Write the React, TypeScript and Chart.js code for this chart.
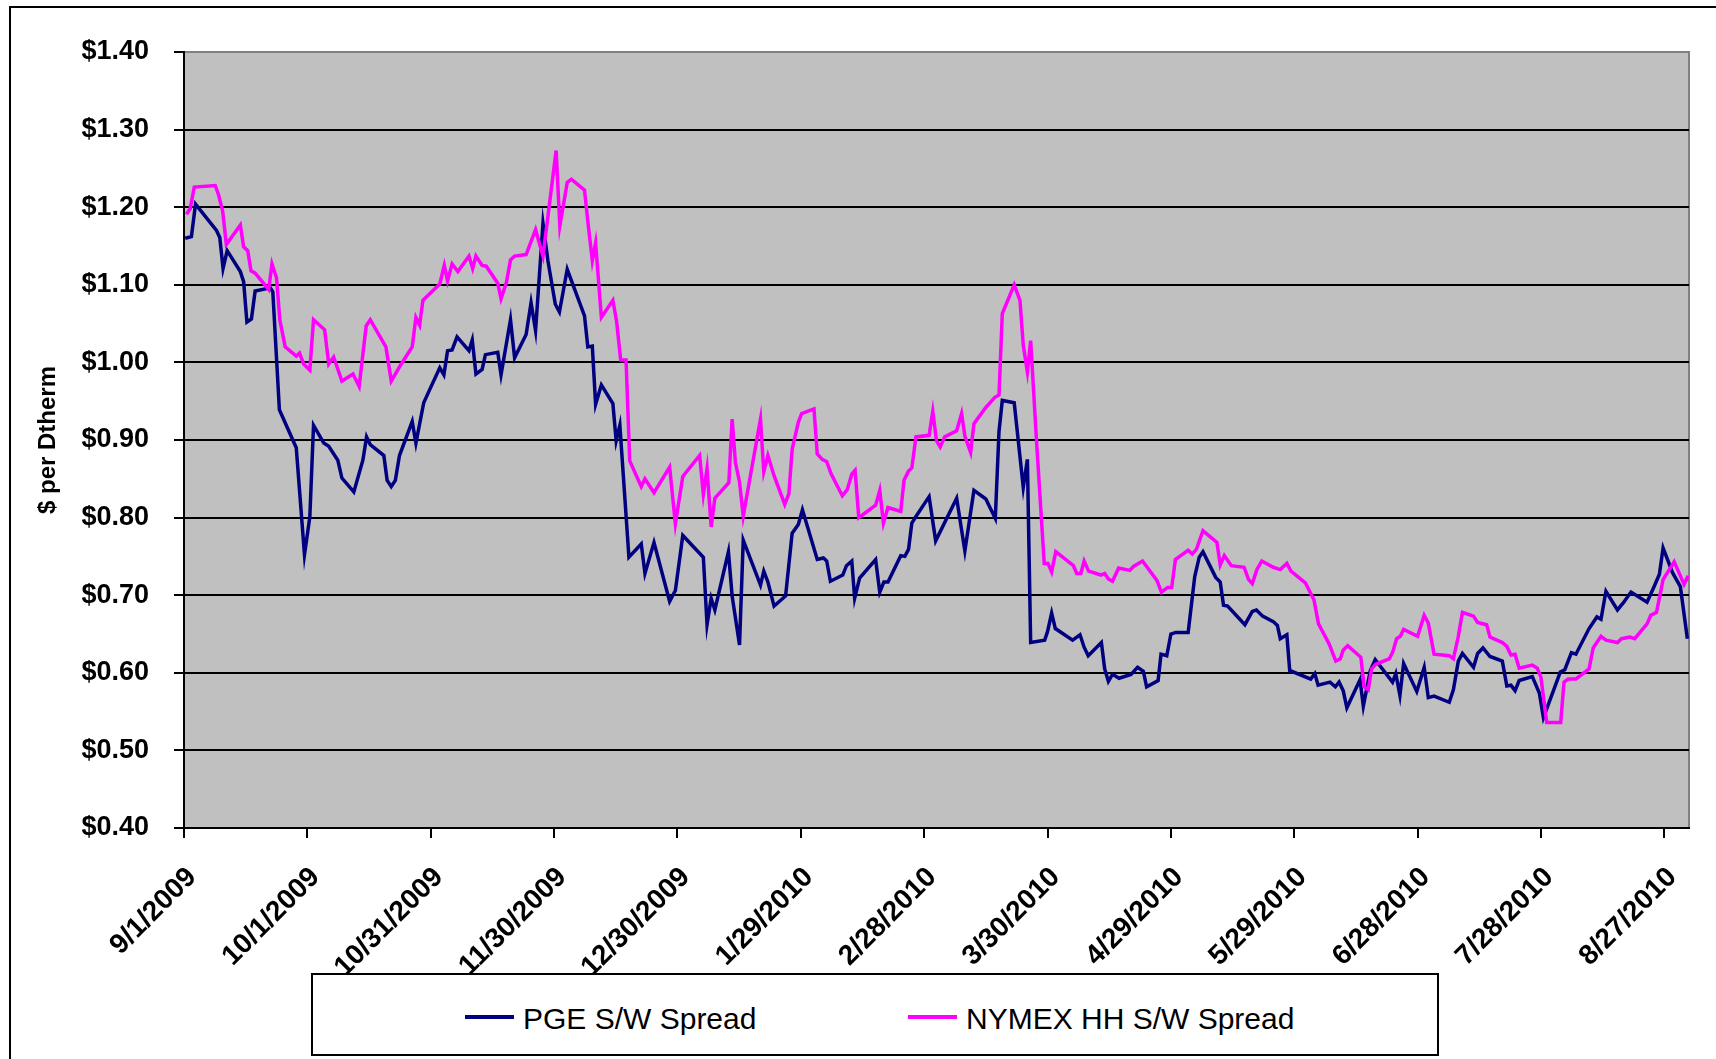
import React, { useEffect, useRef } from 'react';
import { Chart, registerables } from 'chart.js';

Chart.register(...registerables);

// X axis: days since 9/1/2009, ticks every 30 days
const xTickDays = [0, 30, 60, 90, 120, 150, 180, 210, 240, 270, 300, 330, 360];
const xTickLabels = [
  '9/1/2009', '10/1/2009', '10/31/2009', '11/30/2009', '12/30/2009', '1/29/2010',
  '2/28/2010', '3/30/2010', '4/29/2010', '5/29/2010', '6/28/2010', '7/28/2010', '8/27/2010',
];
const xMaxDay = 366;

const seriesNames = ['PGE S/W Spread', 'NYMEX HH S/W Spread'];
const seriesColors = ['#000080', '#FF00FF'];

// PGE S/W Spread ($/Dth)
const pgeDays = [
  0.3, 1.8, 2.8, 7.9, 8.7, 9.5, 10.5, 13.7, 14.5, 15.3,
  16.4, 17.3, 21.0, 21.6, 23.2, 27.3, 29.3, 30.6, 31.5, 34.0,
  35.2, 37.4, 38.4, 41.3, 43.5, 44.4, 45.3, 48.6, 49.4, 50.4,
  51.4, 52.4, 55.5, 56.4, 58.3, 59.5, 62.2, 63.2, 64.1, 65.2,
  66.4, 69.3, 70.1, 71.0, 72.5, 73.3, 76.3, 77.1, 79.4, 80.4,
  83.2, 84.4, 85.5, 87.3, 88.5, 90.3, 91.3, 93.2, 97.4, 98.2,
  99.3, 100.1, 101.5, 104.3, 105.1, 106.0, 108.2, 111.2, 112.1, 114.3,
  118.1, 119.5, 121.3, 126.3, 127.2, 128.2, 129.1, 132.4, 133.3, 135.1,
  136.0, 140.2, 141.0, 142.0, 143.5, 146.3, 147.9, 149.4, 150.4, 154.0,
  155.5, 156.3, 157.2, 160.2, 161.1, 162.4, 163.1, 164.3, 168.2, 169.2,
  170.2, 171.2, 174.3, 175.3, 176.2, 177.0, 178.2, 181.2, 182.8, 187.9,
  189.9, 192.1, 195.0, 196.0, 197.3, 198.2, 199.0, 201.9, 204.1, 205.1,
  205.9, 209.3, 210.0, 211.0, 211.9, 216.1, 217.9, 218.9, 219.9, 223.1,
  223.9, 224.8, 225.8, 227.4, 230.3, 231.9, 233.3, 234.1, 236.9, 237.6,
  239.0, 240.0, 241.2, 244.2, 245.8, 246.9, 247.8, 250.9, 252.0, 252.8,
  253.8, 258.0, 259.8, 260.8, 262.3, 264.9, 265.9, 266.6, 268.2, 268.9,
  274.0, 275.0, 275.8, 278.7, 280.0, 280.9, 281.9, 282.8, 286.0, 286.8,
  288.5, 289.7, 290.7, 293.9, 294.7, 295.7, 296.6, 299.8, 301.6, 302.6,
  304.0, 307.7, 308.7, 309.9, 310.9, 313.6, 314.6, 315.9, 317.6, 320.6,
  321.7, 322.7, 323.7, 324.7, 327.9, 329.6, 330.6, 334.7, 335.8, 337.4,
  338.5, 341.7, 343.6, 344.6, 345.8, 348.6, 350.0, 351.9, 355.8, 357.5,
  358.8, 359.7, 362.0, 363.9, 365.6,
];
const pgeSpread = [
  1.160, 1.162, 1.204, 1.170, 1.161, 1.121, 1.144, 1.117, 1.104, 1.052,
  1.056, 1.092, 1.096, 1.091, 0.939, 0.890, 0.752, 0.801, 0.919, 0.896,
  0.892, 0.874, 0.851, 0.833, 0.874, 0.904, 0.894, 0.880, 0.848, 0.840,
  0.848, 0.880, 0.924, 0.896, 0.948, 0.962, 0.993, 0.984, 1.015, 1.016,
  1.033, 1.015, 1.029, 0.985, 0.991, 1.010, 1.013, 0.984, 1.055, 1.006,
  1.036, 1.077, 1.041, 1.179, 1.131, 1.075, 1.065, 1.120, 1.060, 1.020,
  1.021, 0.946, 0.971, 0.947, 0.899, 0.919, 0.749, 0.766, 0.728, 0.768,
  0.692, 0.706, 0.777, 0.749, 0.662, 0.696, 0.681, 0.756, 0.699, 0.636,
  0.771, 0.713, 0.731, 0.717, 0.686, 0.699, 0.780, 0.791, 0.810, 0.746,
  0.748, 0.744, 0.718, 0.726, 0.738, 0.744, 0.696, 0.722, 0.746, 0.704,
  0.717, 0.717, 0.751, 0.750, 0.759, 0.793, 0.803, 0.827, 0.770, 0.825,
  0.757, 0.835, 0.824, 0.813, 0.799, 0.911, 0.951, 0.948, 0.839, 0.875,
  0.639, 0.642, 0.653, 0.677, 0.657, 0.642, 0.649, 0.633, 0.622, 0.639,
  0.605, 0.589, 0.598, 0.593, 0.598, 0.607, 0.602, 0.582, 0.590, 0.624,
  0.622, 0.650, 0.652, 0.652, 0.724, 0.749, 0.756, 0.723, 0.717, 0.687,
  0.686, 0.662, 0.679, 0.681, 0.673, 0.666, 0.661, 0.644, 0.649, 0.603,
  0.592, 0.599, 0.584, 0.588, 0.582, 0.588, 0.577, 0.555, 0.591, 0.557,
  0.603, 0.617, 0.610, 0.588, 0.599, 0.571, 0.612, 0.576, 0.607, 0.568,
  0.570, 0.562, 0.578, 0.615, 0.625, 0.607, 0.625, 0.632, 0.621, 0.615,
  0.583, 0.584, 0.577, 0.590, 0.595, 0.574, 0.542, 0.601, 0.604, 0.626,
  0.624, 0.657, 0.672, 0.669, 0.705, 0.681, 0.690, 0.704, 0.691, 0.711,
  0.727, 0.761, 0.729, 0.711, 0.644,
];

// NYMEX HH S/W Spread ($/Dth)
const nymexDays = [
  0.6, 1.5, 2.5, 7.6, 8.4, 9.4, 10.3, 13.7, 14.5, 15.5,
  16.3, 17.3, 20.6, 21.4, 22.5, 23.3, 24.6, 27.3, 28.1, 29.1,
  30.6, 31.5, 34.2, 35.2, 36.4, 38.4, 41.1, 42.6, 44.3, 45.3,
  49.1, 50.4, 52.6, 55.5, 56.4, 57.3, 58.1, 62.2, 63.3, 64.1,
  65.2, 66.6, 69.3, 70.2, 71.0, 72.5, 73.5, 76.3, 77.1, 78.4,
  79.4, 80.4, 83.2, 85.5, 87.3, 90.5, 91.4, 93.2, 94.2, 97.4,
  98.2, 99.3, 100.1, 101.5, 104.3, 105.2, 106.2, 107.5, 108.4, 111.2,
  112.1, 114.3, 118.1, 119.5, 121.3, 125.4, 126.3, 127.2, 128.2, 129.1,
  132.5, 133.3, 134.1, 135.1, 136.0, 140.2, 141.0, 142.0, 143.5, 146.1,
  147.1, 147.9, 149.4, 150.2, 153.2, 154.0, 155.2, 156.3, 157.4, 160.1,
  161.3, 162.4, 163.2, 164.1, 168.2, 169.2, 170.1, 171.2, 174.3, 175.1,
  176.2, 177.0, 178.0, 181.2, 182.1, 183.0, 183.9, 185.0, 187.9, 189.1,
  189.9, 191.3, 192.1, 195.0, 197.2, 198.2, 199.0, 201.9, 203.3, 204.1,
  205.1, 205.9, 207.4, 209.2, 210.1, 211.0, 212.0, 216.3, 217.1, 218.1,
  218.9, 220.0, 223.0, 223.9, 224.8, 225.8, 227.3, 230.0, 230.9, 233.1,
  236.6, 237.7, 239.2, 240.2, 241.1, 244.2, 245.2, 246.2, 247.8, 251.2,
  252.0, 253.0, 254.7, 257.8, 258.9, 259.8, 260.9, 262.1, 264.9, 266.6,
  268.2, 269.2, 272.7, 274.8, 275.9, 278.5, 280.1, 281.2, 281.9, 283.0,
  286.2, 287.0, 288.0, 288.8, 289.8, 293.1, 293.9, 294.9, 295.8, 296.6,
  300.0, 301.6, 302.6, 304.0, 307.7, 308.7, 309.9, 310.9, 313.6, 314.6,
  316.8, 317.6, 320.6, 321.7, 322.7, 323.7, 324.7, 327.9, 329.1, 330.0,
  331.4, 334.8, 335.6, 336.6, 338.5, 341.7, 342.7, 344.6, 345.8, 348.6,
  349.6, 351.6, 352.8, 355.8, 356.7, 358.1, 359.7, 362.4, 364.8, 365.8,
];
const nymexSpread = [
  1.191, 1.198, 1.226, 1.228, 1.216, 1.195, 1.152, 1.177, 1.149, 1.144,
  1.118, 1.115, 1.094, 1.127, 1.109, 1.055, 1.020, 1.008, 1.012, 0.998,
  0.990, 1.055, 1.042, 0.998, 1.007, 0.976, 0.985, 0.969, 1.047, 1.055,
  1.020, 0.976, 0.996, 1.020, 1.058, 1.048, 1.080, 1.101, 1.125, 1.105,
  1.127, 1.117, 1.137, 1.121, 1.137, 1.125, 1.124, 1.102, 1.082, 1.103,
  1.132, 1.137, 1.139, 1.171, 1.137, 1.273, 1.176, 1.232, 1.236, 1.222,
  1.182, 1.131, 1.154, 1.058, 1.080, 1.053, 1.003, 1.003, 0.873, 0.840,
  0.850, 0.832, 0.865, 0.792, 0.853, 0.880, 0.830, 0.863, 0.788, 0.825,
  0.845, 0.927, 0.871, 0.846, 0.802, 0.927, 0.859, 0.880, 0.854, 0.817,
  0.831, 0.888, 0.923, 0.934, 0.940, 0.882, 0.875, 0.872, 0.856, 0.828,
  0.836, 0.856, 0.861, 0.800, 0.816, 0.835, 0.793, 0.813, 0.808, 0.848,
  0.860, 0.864, 0.904, 0.906, 0.937, 0.899, 0.891, 0.904, 0.912, 0.934,
  0.905, 0.884, 0.921, 0.942, 0.955, 0.958, 1.063, 1.100, 1.080, 1.022,
  0.988, 1.028, 0.892, 0.741, 0.741, 0.730, 0.756, 0.738, 0.728, 0.728,
  0.744, 0.731, 0.726, 0.728, 0.721, 0.718, 0.735, 0.732, 0.737, 0.744,
  0.719, 0.704, 0.710, 0.710, 0.746, 0.758, 0.753, 0.759, 0.783, 0.768,
  0.739, 0.751, 0.738, 0.736, 0.720, 0.715, 0.733, 0.744, 0.736, 0.733,
  0.741, 0.731, 0.716, 0.694, 0.663, 0.637, 0.615, 0.618, 0.629, 0.635,
  0.620, 0.582, 0.578, 0.605, 0.611, 0.618, 0.626, 0.644, 0.647, 0.656,
  0.647, 0.674, 0.664, 0.624, 0.622, 0.618, 0.647, 0.678, 0.673, 0.665,
  0.662, 0.646, 0.639, 0.634, 0.623, 0.624, 0.606, 0.610, 0.606, 0.594,
  0.536, 0.536, 0.588, 0.592, 0.592, 0.605, 0.632, 0.647, 0.642, 0.639,
  0.644, 0.646, 0.644, 0.663, 0.674, 0.678, 0.720, 0.743, 0.714, 0.725,
];

const FONT = "'Liberation Sans', Arial, Helvetica, sans-serif";

const toPoints = (days: number[], vals: number[]) => {
  const n = Math.min(days.length, vals.length);
  const out: { x: number; y: number }[] = [];
  for (let i = 0; i < n; i++) out.push({ x: days[i], y: vals[i] });
  return out;
};

const plotBackground = {
  id: 'plotBackground',
  beforeDraw(chart: any) {
    const { ctx, chartArea: a } = chart;
    if (!a) return;
    ctx.save();
    ctx.fillStyle = '#C0C0C0';
    ctx.fillRect(a.left, a.top, a.right - a.left, a.bottom - a.top);
    ctx.strokeStyle = '#808080';
    ctx.lineWidth = 2;
    ctx.beginPath();
    ctx.moveTo(a.left, a.top);
    ctx.lineTo(a.right, a.top);
    ctx.lineTo(a.right, a.bottom);
    ctx.stroke();
    ctx.restore();
  },
};

export default function App() {
  const canvasRef = useRef<HTMLCanvasElement | null>(null);

  useEffect(() => {
    if (!canvasRef.current) return;
    const chart = new Chart(canvasRef.current, {
      type: 'line',
      data: {
        datasets: [
          {
            label: seriesNames[0],
            data: toPoints(pgeDays, pgeSpread),
            borderColor: seriesColors[0],
            backgroundColor: seriesColors[0],
            borderWidth: 3.5,
            pointRadius: 0,
            fill: false,
            tension: 0,
            order: 1,
          },
          {
            label: seriesNames[1],
            data: toPoints(nymexDays, nymexSpread),
            borderColor: seriesColors[1],
            backgroundColor: seriesColors[1],
            borderWidth: 3.5,
            pointRadius: 0,
            fill: false,
            tension: 0,
            order: 0,
          },
        ],
      },
      options: {
        responsive: false,
        animation: false,
        devicePixelRatio: 1,
        layout: { padding: { top: 52, right: 27, bottom: 81, left: 0 } },
        plugins: {
          legend: { display: false },
          tooltip: { enabled: false },
        },
        scales: {
          x: {
            type: 'linear',
            min: 0,
            max: xMaxDay,
            afterBuildTicks: (s: any) => {
              s.ticks = xTickDays.map((v) => ({ value: v }));
            },
            afterFit: (s: any) => {
              s.height = 150;
            },
            grid: {
              drawOnChartArea: false,
              drawTicks: true,
              tickLength: 10,
              color: '#000',
              lineWidth: 2,
            },
            border: { display: true, color: '#000', width: 2 },
            ticks: {
              autoSkip: false,
              maxRotation: 45,
              minRotation: 45,
              padding: 23,
              labelOffset: 8,
              color: '#000',
              font: { family: FONT, size: 28, weight: 'bold' },
              callback: (v: any) => {
                const i = xTickDays.indexOf(Number(v));
                return i >= 0 ? xTickLabels[i] : '';
              },
            },
          },
          y: {
            min: 0.4,
            max: 1.4,
            afterFit: (s: any) => {
              s.width = 184;
            },
            grid: {
              color: (c: any) =>
                c.tick && Math.abs(c.tick.value - 1.4) < 1e-6 ? 'rgba(0,0,0,0)' : '#000',
              tickColor: '#000',
              lineWidth: 2,
              tickWidth: 2,
              tickLength: 10,
            },
            border: { display: true, color: '#000', width: 2 },
            ticks: {
              stepSize: 0.1,
              padding: 25,
              color: '#000',
              font: { family: FONT, size: 27, weight: 'bold' },
              callback: (v: any) => '$' + Number(v).toFixed(2),
            },
            title: {
              display: true,
              text: '$ per Dtherm',
              color: '#000',
              font: { family: FONT, size: 24, weight: 'bold' },
              padding: { top: 34, bottom: 0 },
            },
          },
        },
      } as any,
      plugins: [plotBackground],
    });
    return () => chart.destroy();
  }, []);

  const legendLefts = [465, 908];

  return (
    <div
      style={{
        position: 'fixed',
        left: 0,
        top: 0,
        width: 1716,
        height: 1059,
        overflow: 'hidden',
        background: '#fff',
        fontFamily: FONT,
      }}
    >
      <canvas
        ref={canvasRef}
        width={1716}
        height={1059}
        style={{ position: 'absolute', left: 0, top: 0, width: 1716, height: 1059 }}
      />
      <div
        style={{
          position: 'absolute',
          left: 9,
          top: 6,
          width: 1800,
          height: 1200,
          border: '2px solid #000',
          pointerEvents: 'none',
        }}
      />
      <div
        style={{
          position: 'absolute',
          left: 311,
          top: 973,
          width: 1128,
          height: 83,
          boxSizing: 'border-box',
          border: '2px solid #000',
          background: '#fff',
        }}
      />
      {seriesNames.map((name, i) => (
        <div
          key={name}
          style={{
            position: 'absolute',
            left: legendLefts[i],
            top: 1002,
            height: 34,
            display: 'flex',
            alignItems: 'center',
            whiteSpace: 'nowrap',
          }}
        >
          <span
            style={{
              display: 'inline-block',
              width: 49,
              height: 4,
              background: seriesColors[i],
              marginRight: 9,
              position: 'relative',
              top: -2,
            }}
          />
          <span style={{ fontSize: 30, lineHeight: '34px', color: '#000' }}>{name}</span>
        </div>
      ))}
    </div>
  );
}
